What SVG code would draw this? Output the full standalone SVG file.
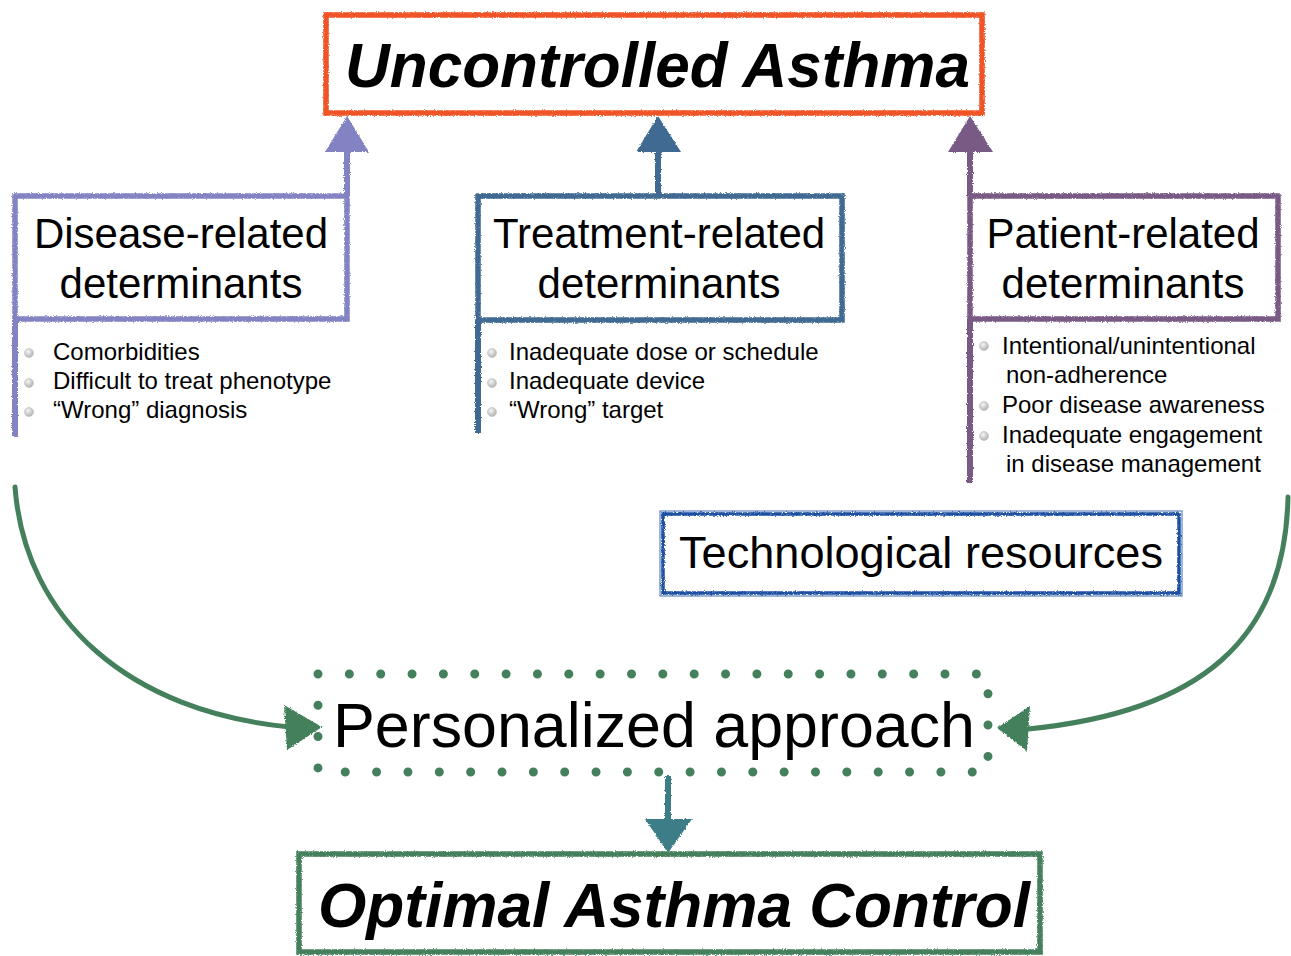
<svg xmlns="http://www.w3.org/2000/svg" width="1291" height="956" viewBox="0 0 1291 956">
<defs>
<filter id="rough" filterUnits="userSpaceOnUse" x="0" y="0" width="1291" height="956">
<feTurbulence type="fractalNoise" baseFrequency="0.9" numOctaves="2" seed="3" result="n"/>
<feDisplacementMap in="SourceGraphic" in2="n" scale="3" xChannelSelector="R" yChannelSelector="G"/>
</filter>
<radialGradient id="bul" cx="40%" cy="35%" r="65%"><stop offset="0" stop-color="#f6f6f6"/><stop offset="1" stop-color="#b0b0b0"/></radialGradient>
</defs>
<style>
.t{font-family:"Liberation Sans",Arial,Helvetica,sans-serif;fill:#000}
.h{font-size:42px;text-anchor:middle}
.b{font-size:24px}
.big{font-weight:bold;font-style:italic;font-size:63px}
.box{fill:#fff;stroke-width:5.5;filter:url(#rough)}
.ln{fill:none;stroke-width:6;filter:url(#rough)}
.crv{fill:none;stroke-width:5;stroke-linecap:round}
.bul{fill:url(#bul);stroke:#c8c8c8;stroke-width:0.8}
.dis{stroke:#8383C3}.disf{fill:#8383C3}
.trt{stroke:#3F6B91}.trtf{fill:#3F6B91}
.pat{stroke:#785A85}.patf{fill:#785A85}
.grn{stroke:#44805C}.grnf{fill:#44805C}
.tea{stroke:#3D7D88}.teaf{fill:#3D7D88}
.head{filter:url(#rough)}
</style>

<g id="connectors">
<path class="ln dis" d="M347,196 V148"/>
<polygon class="disf head" points="325,152 347,116 369,152"/>
<path class="ln trt" d="M658,196 V148"/>
<polygon class="trtf head" points="636,152 658,116 681,152"/>
<path class="ln pat" d="M970,196 V148"/>
<polygon class="patf head" points="948,152 970,116 993,152"/>
<path class="crv grn" d="M15,487 C25,620 130,712 290,727"/>
<polygon class="grnf head" points="322,727 284,705 287,750"/>
<path class="crv grn" d="M1288,497 C1285,640 1200,712 1028,729"/>
<polygon class="grnf head" points="997,728 1030,706 1027,751"/>
<path class="ln tea" d="M668,775 V822"/>
<polygon class="teaf head" points="645,819 668,853 692,819"/>
</g>

<g id="uncontrolled">
<rect class="box" x="326" y="15" width="656" height="98" stroke="#EF5325"/>
<text class="t big" x="345" y="87" textLength="625" lengthAdjust="spacingAndGlyphs">Uncontrolled Asthma</text>
</g>

<g id="disease">
<rect class="box dis" x="15" y="196" width="332" height="123"/>
<path class="ln dis" d="M15,319 V437"/>
<text class="t h" x="181" y="248">Disease-related</text>
<text class="t h" x="181" y="298">determinants</text>
<circle class="bul" cx="29" cy="353" r="4.5"/>
<circle class="bul" cx="29" cy="383" r="4.5"/>
<circle class="bul" cx="29" cy="412" r="4.5"/>
<text class="t b" x="53" y="360">Comorbidities</text>
<text class="t b" x="53" y="389">Difficult to treat phenotype</text>
<text class="t b" x="53" y="418">“Wrong” diagnosis</text>
</g>

<g id="treatment">
<rect class="box trt" x="478" y="196" width="364" height="124"/>
<path class="ln trt" d="M478,320 V433"/>
<text class="t h" x="659" y="248">Treatment-related</text>
<text class="t h" x="659" y="298">determinants</text>
<circle class="bul" cx="492" cy="353" r="4.5"/>
<circle class="bul" cx="492" cy="383" r="4.5"/>
<circle class="bul" cx="492" cy="412" r="4.5"/>
<text class="t b" x="509" y="360">Inadequate dose or schedule</text>
<text class="t b" x="509" y="389">Inadequate device</text>
<text class="t b" x="509" y="418">“Wrong” target</text>
</g>

<g id="patient">
<rect class="box pat" x="970" y="196" width="308" height="123"/>
<path class="ln pat" d="M970,319 V483"/>
<text class="t h" x="1123" y="248">Patient-related</text>
<text class="t h" x="1123" y="298">determinants</text>
<circle class="bul" cx="984" cy="346" r="4.5"/>
<circle class="bul" cx="984" cy="406" r="4.5"/>
<circle class="bul" cx="984" cy="436" r="4.5"/>
<text class="t b" x="1002" y="354">Intentional/unintentional</text>
<text class="t b" x="1006" y="383">non-adherence</text>
<text class="t b" x="1002" y="413">Poor disease awareness</text>
<text class="t b" x="1002" y="443">Inadequate engagement</text>
<text class="t b" x="1006" y="472">in disease management</text>
</g>

<g id="technological">
<rect x="660" y="511" width="522" height="85" fill="none" stroke="#1B4FA2" stroke-width="1.2" opacity="0.7"/>
<rect class="box" x="663" y="514" width="516" height="79" stroke="#1B4FA2" style="stroke-width:3.5"/>
<text class="t" x="679" y="568" font-size="44" textLength="484" lengthAdjust="spacingAndGlyphs">Technological resources</text>
</g>

<g id="personalized">
<path d="M318,674 H988 V772 H318 Z" fill="none" stroke="#44805C" stroke-width="9" stroke-linecap="round" stroke-dasharray="0 31.35"/>
<text class="t" x="333" y="747" font-size="63" textLength="642" lengthAdjust="spacingAndGlyphs">Personalized approach</text>
</g>

<g id="optimal">
<rect class="box grn" x="299" y="854" width="741" height="98"/>
<text class="t big" x="318" y="927" font-size="64" textLength="712" lengthAdjust="spacingAndGlyphs">Optimal Asthma Control</text>
</g>
</svg>
